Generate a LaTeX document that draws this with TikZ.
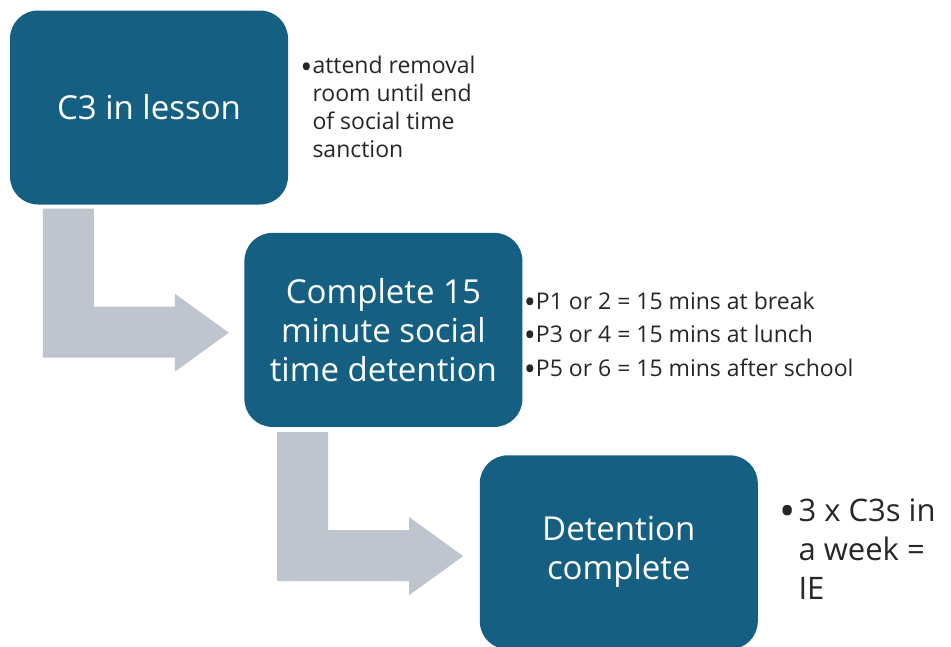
\documentclass[tikz,border=0pt]{standalone}
\usepackage{fontspec}
\usepackage{graphicx}
\setmainfont{Open Sans}
\usetikzlibrary{positioning}
\definecolor{boxblue}{RGB}{21,96,130}
\definecolor{arrowgray}{RGB}{190,197,206}
\definecolor{notetext}{RGB}{38,38,38}

\newcommand{\notebullet}{\raisebox{-0.35ex}{\scalebox{1.4}{\textbullet}}}

\tikzset{bentarrow/.pic={
    \fill[arrowgray] (0,0) -- (51,0) -- (51,98) -- (132,98) -- (132,85) -- (186,124)
        -- (132,163) -- (132,149) -- (0,149) -- cycle;
}}

\begin{document}
\begin{tikzpicture}[x=1pt, y=-1pt,
    stepbox/.style={rectangle, fill=boxblue, rounded corners=28pt, text=white, align=center,
        minimum width=278pt, minimum height=194pt, inner sep=0pt, font=\fontsize{33}{39}\selectfont},
    note/.style={inner sep=0pt, text=notetext, anchor=west}]
    \useasboundingbox (0,0) rectangle (951,646);

    % the three steps
    \node[stepbox] (lesson) at (149,107.5) {C3 in lesson};
    \node[stepbox, below right=28pt and -44pt of lesson] (social) {Complete 15\\minute social\\time detention};
    \node[stepbox, below right=28pt and -43pt of social] (done) {Detention\\complete};

    % bent arrows between them
    \pic at ([shift={(33,4)}]lesson.south west) {bentarrow};
    \pic at ([shift={(33,5)}]social.south west) {bentarrow};

    \node[note, right=12pt of lesson, yshift=-2.5pt, font=\fontsize{23}{27.7}\selectfont] (lessonnote)
        {\begin{tabular}{@{}l@{}l@{}}\notebullet&attend removal\\&room until end\\&of social time\\&sanction\end{tabular}};
    \node[note, right=1pt of social, yshift=-6pt, font=\fontsize{23}{33.5}\selectfont] (socialnote)
        {\begin{tabular}{@{}l@{}l@{}}\notebullet&P1 or 2 = 15 mins at break\\\notebullet&P3 or 4 = 15 mins at lunch\\\notebullet&P5 or 6 = 15 mins after school\end{tabular}};
    \node[note, right=21pt of done, font=\fontsize{31}{39}\selectfont] (donenote)
        {\begin{tabular}{@{}l@{\hspace{3pt}}l@{}}\notebullet&3 x C3s in\\&a week =\\&IE\end{tabular}};
\end{tikzpicture}
\end{document}
